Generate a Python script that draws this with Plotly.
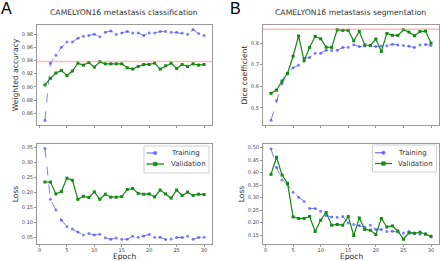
import plotly.graph_objects as go

epochs = list(range(1, 31))

cls_train_acc = [0.849, 0.936, 0.948, 0.960, 0.968, 0.968, 0.974, 0.977, 0.978, 0.980,
                 0.976, 0.983, 0.985, 0.980, 0.982, 0.984, 0.982, 0.982, 0.978, 0.982,
                 0.982, 0.984, 0.984, 0.983, 0.983, 0.982, 0.980, 0.987, 0.981, 0.978]
cls_val_acc = [0.903, 0.913, 0.921, 0.925, 0.917, 0.924, 0.936, 0.933, 0.937, 0.930,
               0.938, 0.935, 0.935, 0.935, 0.935, 0.929, 0.927, 0.931, 0.934, 0.934,
               0.936, 0.927, 0.932, 0.936, 0.928, 0.934, 0.931, 0.935, 0.933, 0.934]
cls_ref = 0.9385

seg_train_dice = [0.442, 0.534, 0.613, 0.658, 0.686, 0.697, 0.730, 0.733, 0.753, 0.753,
                  0.767, 0.766, 0.767, 0.780, 0.781, 0.792, 0.784, 0.786, 0.788, 0.784,
                  0.786, 0.788, 0.795, 0.791, 0.789, 0.786, 0.780, 0.791, 0.794, 0.789]
seg_val_dice = [0.567, 0.582, 0.624, 0.660, 0.739, 0.833, 0.718, 0.780, 0.831, 0.820,
                0.781, 0.780, 0.862, 0.859, 0.859, 0.811, 0.854, 0.791, 0.789, 0.819,
                0.761, 0.845, 0.836, 0.836, 0.862, 0.851, 0.834, 0.854, 0.856, 0.800]
seg_ref = 0.864

cls_train_loss = [0.347, 0.177, 0.141, 0.107, 0.086, 0.077, 0.067, 0.057, 0.062, 0.057,
                  0.060, 0.048, 0.043, 0.047, 0.043, 0.043, 0.053, 0.050, 0.054, 0.059,
                  0.050, 0.050, 0.042, 0.044, 0.049, 0.049, 0.053, 0.043, 0.049, 0.050]
cls_val_loss = [0.235, 0.235, 0.195, 0.203, 0.248, 0.241, 0.177, 0.187, 0.183, 0.202,
                0.177, 0.194, 0.184, 0.184, 0.186, 0.210, 0.213, 0.197, 0.194, 0.195,
                0.185, 0.208, 0.195, 0.181, 0.208, 0.190, 0.201, 0.190, 0.194, 0.193]

seg_train_loss = [0.495, 0.420, 0.370, 0.352, 0.321, 0.302, 0.285, 0.257, 0.257, 0.246,
                  0.229, 0.223, 0.222, 0.225, 0.199, 0.193, 0.189, 0.182, 0.190, 0.173,
                  0.173, 0.165, 0.166, 0.163, 0.159, 0.165, 0.157, 0.154, 0.157, 0.143]
seg_val_loss = [0.393, 0.461, 0.390, 0.357, 0.223, 0.217, 0.217, 0.225, 0.165, 0.210,
                0.241, 0.190, 0.193, 0.190, 0.225, 0.149, 0.219, 0.173, 0.170, 0.153,
                0.217, 0.183, 0.187, 0.167, 0.134, 0.159, 0.158, 0.162, 0.154, 0.146]

x_ticks = [0, 5, 10, 15, 20, 25, 30]
acc_ticks = [0.86, 0.88, 0.90, 0.92, 0.94, 0.96, 0.98]
dice_ticks = [0.5, 0.6, 0.7, 0.8]
cls_loss_ticks = [0.05, 0.10, 0.15, 0.20, 0.25, 0.30, 0.35]
seg_loss_ticks = [0.15, 0.20, 0.25, 0.30, 0.35, 0.40, 0.45, 0.50]
series_names = ["Training", "Validation"]
x_label = "Epoch"

W, H = 440, 261
FONT = "DejaVu Sans"
TRAIN_C = "rgba(60,60,255,0.65)"
VAL_C = "#138a13"
REF_C = "rgba(255,120,120,0.5)"
SPINE = "#9a9a9a"

fig = go.Figure()


def add_pair(xa, ya, train, val):
    fig.add_trace(go.Scatter(
        x=epochs, y=train, mode="lines+markers", name=series_names[0],
        line=dict(color=TRAIN_C, width=1, dash="dash"),
        marker=dict(symbol="circle", size=3, color=TRAIN_C),
        xaxis=xa, yaxis=ya, showlegend=False))
    fig.add_trace(go.Scatter(
        x=epochs, y=val, mode="lines+markers", name=series_names[1],
        line=dict(color=VAL_C, width=1.2),
        marker=dict(symbol="square", size=3, color=VAL_C),
        xaxis=xa, yaxis=ya, showlegend=False))


add_pair("x", "y", cls_train_acc, cls_val_acc)
add_pair("x2", "y2", seg_train_dice, seg_val_dice)
add_pair("x3", "y3", cls_train_loss, cls_val_loss)
add_pair("x4", "y4", seg_train_loss, seg_val_loss)

fig.add_shape(type="line", xref="x domain", yref="y", x0=0, x1=1, y0=cls_ref, y1=cls_ref,
              line=dict(color=REF_C, width=1.5))
fig.add_shape(type="line", xref="x2 domain", yref="y2", x0=0, x1=1, y0=seg_ref, y1=seg_ref,
              line=dict(color=REF_C, width=1.5))


def PX(x):
    return x / W


def PY(y):
    return (H - y) / H


xrange = [-0.45, 31.45]
tickfont = dict(family=FONT, size=5, color="#444")
titlefont = dict(family=FONT, size=7.6, color="#2a2a2a")


def xaxis(domain, anchor, labels):
    return dict(domain=domain, anchor=anchor, range=xrange, tickvals=x_ticks,
                showticklabels=labels, ticks="outside", ticklen=2, tickcolor=SPINE,
                showline=True, linecolor=SPINE, linewidth=1, mirror=True,
                showgrid=False, zeroline=False, tickfont=tickfont, automargin=False,
                ticklabelstandoff=-1)


def yaxis(domain, anchor, rng, ticks, fmt, title):
    return dict(domain=domain, anchor=anchor, range=rng, tickvals=ticks, tickformat=fmt,
                ticks="outside", ticklen=2, tickcolor=SPINE,
                showline=True, linecolor=SPINE, linewidth=1, mirror=True,
                showgrid=False, zeroline=False, tickfont=tickfont, automargin=False,
                title=dict(text=title, font=titlefont, standoff=2))


top = [PY(125), PY(25)]
bot = [PY(244), PY(144)]
xa = [PX(37), PX(212)]
xb = [PX(263), PX(439)]

fig.update_layout(
    width=W, height=H, margin=dict(l=0, r=0, t=0, b=0),
    paper_bgcolor="white", plot_bgcolor="white",
    font=dict(family=FONT), showlegend=False,
    xaxis=xaxis(xa, "y", False),
    yaxis=yaxis(top, "x", [0.842, 0.994], acc_ticks, ".2f", "Weighted accuracy"),
    xaxis2=xaxis(xb, "y2", False),
    yaxis2=yaxis(top, "x2", [0.42, 0.884], dice_ticks, ".1f", "Dice coefficient"),
    xaxis3=xaxis(xa, "y3", True),
    yaxis3=yaxis(bot, "x3", [0.027, 0.3625], cls_loss_ticks, ".2f", "Loss"),
    xaxis4=xaxis(xb, "y4", True),
    yaxis4=yaxis(bot, "x4", [0.115, 0.514], seg_loss_ticks, ".2f", "Loss"),
)

# x-axis titles ("Epoch") placed under the bottom panels
for dom in (xa, xb):
    fig.add_annotation(text=x_label, x=(dom[0] + dom[1]) / 2, y=PY(256.8),
                       xref="paper", yref="paper", showarrow=False,
                       xanchor="center", yanchor="middle", borderpad=0,
                       font=titlefont)


# compact legend boxes (matplotlib style)
def legend_box(x0, y0, x1, y1, line_x0, line_x1, text_x, rows_y):
    fig.add_shape(type="rect", xref="paper", yref="paper",
                  x0=PX(x0), x1=PX(x1), y0=PY(y1), y1=PY(y0),
                  line=dict(color="#d0d0d0", width=1), fillcolor="rgba(255,255,255,0.85)")
    styles = [(TRAIN_C, "dash", "circle"), (VAL_C, "solid", "rect")]
    for name, (col, dash, mk), ry in zip(series_names, styles, rows_y):
        fig.add_shape(type="line", xref="paper", yref="paper",
                      x0=PX(line_x0), x1=PX(line_x1), y0=PY(ry), y1=PY(ry),
                      line=dict(color=col, width=1.3, dash=dash))
        mx = (line_x0 + line_x1) / 2
        fig.add_shape(type="circle" if mk == "circle" else "rect", xref="paper", yref="paper",
                      x0=PX(mx - 1.8), x1=PX(mx + 1.8), y0=PY(ry + 1.8), y1=PY(ry - 1.8),
                      line=dict(color=col, width=0.5), fillcolor=col)
        fig.add_annotation(text=name, x=PX(text_x), y=PY(ry), xref="paper", yref="paper",
                           xanchor="left", yanchor="middle", showarrow=False,
                           font=dict(family=FONT, size=7, color="#333"))


legend_box(144, 146, 209, 173, 146.5, 164, 168.5, [153, 164])
legend_box(372.5, 145, 436.5, 172, 375, 392, 396, [152.7, 163.5])

fig.add_annotation(text="CAMELYON16 metastasis classification", x=PX(124), y=PY(13),
                   xref="paper", yref="paper", showarrow=False,
                   xanchor="center", yanchor="middle",
                   font=dict(family=FONT, size=7.7, color="#333"))
fig.add_annotation(text="CAMELYON16 metastasis segmentation", x=PX(350), y=PY(13),
                   xref="paper", yref="paper", showarrow=False,
                   xanchor="center", yanchor="middle",
                   font=dict(family=FONT, size=7.7, color="#333"))
fig.add_annotation(text="A", x=PX(6.5), y=PY(8), xref="paper", yref="paper", showarrow=False,
                   xanchor="center", yanchor="middle",
                   font=dict(family="Liberation Sans", size=16, color="black"))
fig.add_annotation(text="B", x=PX(235.5), y=PY(8), xref="paper", yref="paper", showarrow=False,
                   xanchor="center", yanchor="middle",
                   font=dict(family="Liberation Sans", size=16, color="black"))

fig.write_html("out.html", config={"displayModeBar": False},
               post_script="document.body.style.margin='0';document.body.style.overflow='hidden';")
